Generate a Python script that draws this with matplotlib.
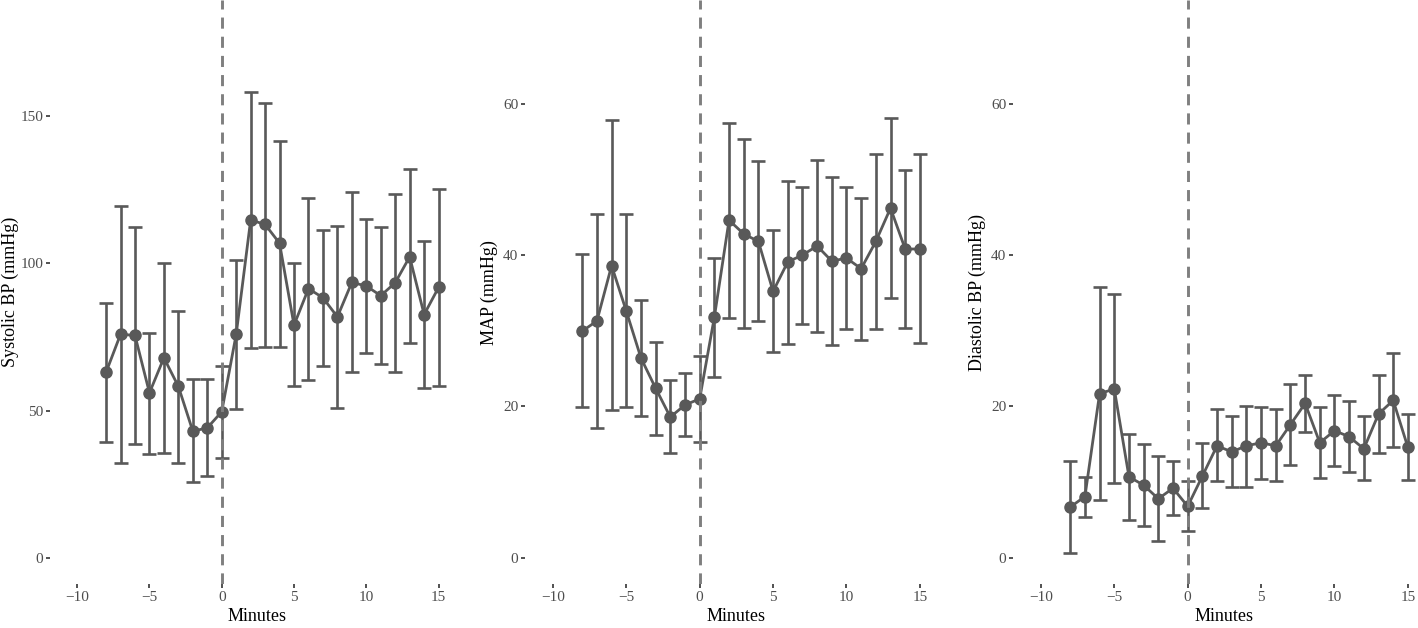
import numpy as np
import matplotlib
matplotlib.use("Agg")
import matplotlib.pyplot as plt

plt.rcParams['font.family'] = ['Liberation Serif', 'DejaVu Serif']
plt.rcParams['lines.scale_dashes'] = False

minutes = list(range(-8, 16))

sys_mean = [63.0, 75.9, 75.5, 56.0, 67.9, 58.2, 43.0, 44.1, 49.6, 75.9, 114.7, 113.2,
            106.8, 79.0, 91.4, 88.3, 81.8, 93.5, 92.3, 89.0, 93.4, 102.2, 82.6, 91.8]
sys_hi = [86.4, 119.4, 112.4, 76.2, 100.2, 83.9, 60.7, 60.7, 65.2, 101.1, 158.2, 154.3,
          141.5, 100.2, 122.3, 111.3, 112.6, 124.1, 115.2, 112.2, 123.5, 131.9, 107.5, 125.2]
sys_lo = [39.4, 32.3, 38.7, 35.4, 35.7, 32.3, 25.6, 27.7, 34.0, 50.4, 71.1, 71.7,
          71.7, 58.2, 60.3, 65.2, 50.8, 63.0, 69.6, 65.8, 63.2, 72.8, 57.5, 58.3]

map_mean = [29.95, 31.3, 38.6, 32.6, 26.4, 22.4, 18.6, 20.2, 21.0, 31.8, 44.6, 42.8,
            41.8, 35.2, 39.1, 40.0, 41.2, 39.2, 39.6, 38.2, 41.8, 46.2, 40.8, 40.8]
map_hi = [40.1, 45.4, 57.8, 45.4, 34.0, 28.5, 23.5, 24.4, 26.6, 39.6, 57.5, 55.3,
          52.4, 43.3, 49.8, 49.0, 52.5, 50.3, 49.0, 47.6, 53.4, 58.1, 51.3, 53.3]
map_lo = [19.95, 17.2, 19.5, 19.95, 18.8, 16.2, 13.8, 16.1, 15.3, 23.9, 31.7, 30.3,
          31.3, 27.2, 28.2, 30.9, 29.9, 28.1, 30.2, 28.8, 30.2, 34.3, 30.3, 28.4]

dia_mean = [6.7, 8.1, 21.7, 22.3, 10.7, 9.6, 7.8, 9.2, 6.8, 10.8, 14.8, 14.0,
            14.8, 15.2, 14.8, 17.6, 20.4, 15.2, 16.8, 16.0, 14.4, 19.0, 20.8, 14.6]
dia_hi = [12.8, 10.7, 35.8, 34.8, 16.3, 15.0, 13.4, 12.8, 10.1, 15.2, 19.6, 18.7,
          20.1, 19.9, 19.6, 22.9, 24.1, 19.9, 21.5, 20.7, 18.7, 24.1, 27.0, 19.0]
dia_lo = [0.6, 5.4, 7.7, 9.9, 5.0, 4.2, 2.2, 5.6, 3.5, 6.6, 10.1, 9.3,
          9.4, 10.4, 10.1, 12.3, 16.6, 10.5, 12.1, 11.4, 10.3, 13.9, 14.6, 10.3]

x_ticks = [-10, -5, 0, 5, 10, 15]

W, H = 1418, 628
fig = plt.figure(figsize=(W / 100, H / 100), dpi=100)

ink = '#595959'

# (left px, width px, ylim, yticks, ylabel, data, ylabel x)
panels = [
    (49.7, 414.9, (-9.0, 189.4), [0, 50, 100, 150], 'Systolic BP (mmHg)',
     sys_mean, sys_lo, sys_hi, -0.074),
    (525.0, 421.3, (-3.5, 73.7), [0, 20, 40, 60], 'MAP (mmHg)',
     map_mean, map_lo, map_hi, -0.063),
    (1013.0, 421.3, (-3.5, 73.7), [0, 20, 40, 60], 'Diastolic BP (mmHg)',
     dia_mean, dia_lo, dia_hi, -0.063),
]

bottom_px = 584.3
for left, width, ylim, yticks, ylab, mean, lo, hi, labx in panels:
    ax = fig.add_axes([left / W, (H - bottom_px) / H, width / W, bottom_px / H])
    mean = np.array(mean)
    err = np.array([mean - np.array(lo), np.array(hi) - mean])
    ax.errorbar(minutes, mean, yerr=err, color=ink, lw=2.0, elinewidth=1.9,
                capsize=5.2, capthick=1.9, marker='o', markersize=8,
                zorder=2)
    ax.axvline(0, color='#7f7f7f', lw=2.1, dashes=(8, 5.8), zorder=3)
    ax.set_xlim(-11.9, 16.8)
    ax.set_ylim(*ylim)
    ax.set_xticks(x_ticks)
    ax.set_yticks(yticks)
    for s in ax.spines.values():
        s.set_visible(False)
    ax.tick_params(length=2.9, width=1.2, color='#333333', labelcolor='#4d4d4d',
                   labelsize=11, pad=1.8)
    ax.set_xlabel('Minutes', fontsize=13, color='black')
    ax.set_ylabel(ylab, fontsize=13, color='black')
    ax.xaxis.set_label_coords(0.5, -0.040)
    ax.xaxis.label.set_va('top')
    ax.yaxis.set_label_coords(labx, 0.5)

plt.savefig('out.png', dpi=100)
